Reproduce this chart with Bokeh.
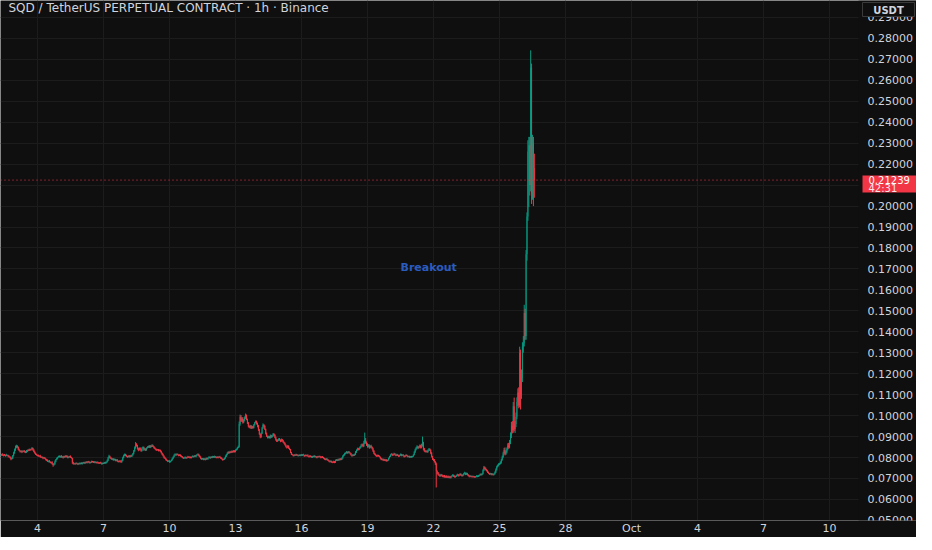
from bokeh.plotting import figure
from bokeh.models import ColumnDataSource, FixedTicker, Label, Range1d, Grid
from bokeh.core.properties import value
from bokeh.embed import file_html
from bokeh.resources import INLINE

# SQD/USDT perp, 1h candles, Sep 2 08:00 -> Sep 26 14:00
days = list(range(2, 27))

# closing prices per hour, one row per day (first row starts at 08:00)
close_rows = [
    [0.0812, 0.0815, 0.0810, 0.0813, 0.0811, 0.0808, 0.0812, 0.0810, 0.0806, 0.0803, 0.0800, 0.0793, 0.0795, 0.0808, 0.0822, 0.0835],
    [0.0848, 0.0855, 0.0850, 0.0838, 0.0832, 0.0828, 0.0831, 0.0826, 0.0829, 0.0832, 0.0827, 0.0824, 0.0830, 0.0835, 0.0833, 0.0838, 0.0836, 0.0840, 0.0845, 0.0837, 0.0828, 0.0822, 0.0815, 0.0811],
    [0.0810, 0.0806, 0.0808, 0.0803, 0.0800, 0.0802, 0.0797, 0.0799, 0.0795, 0.0790, 0.0786, 0.0781, 0.0784, 0.0779, 0.0775, 0.0778, 0.0770, 0.0764, 0.0768, 0.0780, 0.0790, 0.0796, 0.0802, 0.0806],
    [0.0803, 0.0807, 0.0801, 0.0804, 0.0800, 0.0806, 0.0802, 0.0808, 0.0804, 0.0799, 0.0803, 0.0806, 0.0801, 0.0797, 0.0776, 0.0770, 0.0772, 0.0769, 0.0773, 0.0771, 0.0768, 0.0772, 0.0770, 0.0774],
    [0.0771, 0.0775, 0.0773, 0.0777, 0.0774, 0.0779, 0.0776, 0.0781, 0.0777, 0.0774, 0.0778, 0.0782, 0.0779, 0.0776, 0.0780, 0.0777, 0.0774, 0.0778, 0.0775, 0.0772, 0.0776, 0.0773, 0.0770, 0.0774],
    [0.0772, 0.0776, 0.0774, 0.0778, 0.0785, 0.0797, 0.0806, 0.0800, 0.0795, 0.0791, 0.0794, 0.0788, 0.0791, 0.0786, 0.0789, 0.0783, 0.0779, 0.0784, 0.0781, 0.0778, 0.0786, 0.0798, 0.0809, 0.0815],
    [0.0810, 0.0806, 0.0802, 0.0807, 0.0803, 0.0809, 0.0805, 0.0811, 0.0818, 0.0830, 0.0845, 0.0862, 0.0857, 0.0842, 0.0836, 0.0845, 0.0838, 0.0832, 0.0844, 0.0849, 0.0837, 0.0842, 0.0835, 0.0846],
    [0.0850, 0.0854, 0.0848, 0.0856, 0.0852, 0.0858, 0.0853, 0.0847, 0.0842, 0.0838, 0.0835, 0.0838, 0.0833, 0.0836, 0.0830, 0.0822, 0.0815, 0.0808, 0.0800, 0.0796, 0.0790, 0.0786, 0.0782, 0.0784],
    [0.0779, 0.0783, 0.0788, 0.0795, 0.0803, 0.0811, 0.0815, 0.0812, 0.0816, 0.0813, 0.0809, 0.0812, 0.0808, 0.0804, 0.0800, 0.0796, 0.0799, 0.0802, 0.0797, 0.0800, 0.0804, 0.0800, 0.0803, 0.0799],
    [0.0802, 0.0806, 0.0804, 0.0808, 0.0805, 0.0810, 0.0813, 0.0815, 0.0809, 0.0803, 0.0796, 0.0792, 0.0795, 0.0791, 0.0794, 0.0790, 0.0796, 0.0793, 0.0799, 0.0802, 0.0798, 0.0803, 0.0800, 0.0804],
    [0.0801, 0.0805, 0.0802, 0.0799, 0.0803, 0.0800, 0.0804, 0.0801, 0.0797, 0.0793, 0.0789, 0.0792, 0.0796, 0.0805, 0.0813, 0.0820, 0.0826, 0.0822, 0.0828, 0.0824, 0.0830, 0.0826, 0.0832, 0.0828],
    [0.0835, 0.0840, 0.0846, 0.0852, 0.0960, 0.0995, 0.0975, 0.0985, 0.0968, 0.0978, 0.0990, 0.1000, 0.0982, 0.0965, 0.0950, 0.0944, 0.0952, 0.0940, 0.0948, 0.0942, 0.0955, 0.0966, 0.0972, 0.0962],
    [0.0950, 0.0932, 0.0912, 0.0898, 0.0915, 0.0940, 0.0955, 0.0950, 0.0935, 0.0915, 0.0902, 0.0896, 0.0900, 0.0894, 0.0905, 0.0898, 0.0903, 0.0912, 0.0908, 0.0896, 0.0885, 0.0878, 0.0883, 0.0889],
    [0.0884, 0.0878, 0.0886, 0.0880, 0.0873, 0.0868, 0.0860, 0.0852, 0.0848, 0.0855, 0.0845, 0.0838, 0.0825, 0.0815, 0.0812, 0.0808, 0.0813, 0.0810, 0.0815, 0.0811, 0.0808, 0.0812, 0.0809, 0.0813],
    [0.0810, 0.0814, 0.0811, 0.0807, 0.0812, 0.0808, 0.0811, 0.0806, 0.0803, 0.0808, 0.0805, 0.0801, 0.0806, 0.0803, 0.0807, 0.0804, 0.0800, 0.0805, 0.0802, 0.0806, 0.0803, 0.0799, 0.0804, 0.0800],
    [0.0797, 0.0793, 0.0790, 0.0794, 0.0789, 0.0786, 0.0782, 0.0779, 0.0783, 0.0778, 0.0776, 0.0781, 0.0777, 0.0785, 0.0789, 0.0786, 0.0791, 0.0788, 0.0794, 0.0790, 0.0797, 0.0806, 0.0812, 0.0818],
    [0.0821, 0.0826, 0.0822, 0.0827, 0.0823, 0.0819, 0.0812, 0.0808, 0.0813, 0.0810, 0.0815, 0.0826, 0.0835, 0.0842, 0.0838, 0.0845, 0.0850, 0.0858, 0.0862, 0.0855, 0.0868, 0.0885, 0.0872, 0.0860],
    [0.0852, 0.0858, 0.0848, 0.0855, 0.0850, 0.0843, 0.0832, 0.0820, 0.0814, 0.0810, 0.0806, 0.0811, 0.0807, 0.0803, 0.0796, 0.0790, 0.0793, 0.0787, 0.0791, 0.0785, 0.0789, 0.0784, 0.0788, 0.0797],
    [0.0805, 0.0812, 0.0816, 0.0811, 0.0814, 0.0818, 0.0813, 0.0809, 0.0814, 0.0810, 0.0806, 0.0811, 0.0815, 0.0810, 0.0813, 0.0808, 0.0804, 0.0809, 0.0812, 0.0807, 0.0803, 0.0806, 0.0801, 0.0805],
    [0.0802, 0.0806, 0.0812, 0.0825, 0.0838, 0.0846, 0.0852, 0.0845, 0.0850, 0.0856, 0.0848, 0.0858, 0.0870, 0.0842, 0.0832, 0.0828, 0.0831, 0.0826, 0.0835, 0.0840, 0.0836, 0.0822, 0.0805, 0.0792],
    [0.0788, 0.0780, 0.0770, 0.0735, 0.0728, 0.0720, 0.0716, 0.0712, 0.0718, 0.0714, 0.0709, 0.0713, 0.0707, 0.0711, 0.0706, 0.0710, 0.0705, 0.0709, 0.0704, 0.0708, 0.0712, 0.0716, 0.0711, 0.0707],
    [0.0710, 0.0714, 0.0718, 0.0713, 0.0717, 0.0721, 0.0716, 0.0712, 0.0717, 0.0722, 0.0726, 0.0720, 0.0724, 0.0718, 0.0713, 0.0709, 0.0712, 0.0708, 0.0711, 0.0707, 0.0710, 0.0706, 0.0709, 0.0712],
    [0.0709, 0.0713, 0.0716, 0.0720, 0.0718, 0.0722, 0.0738, 0.0752, 0.0748, 0.0742, 0.0736, 0.0730, 0.0725, 0.0721, 0.0724, 0.0719, 0.0722, 0.0718, 0.0721, 0.0729, 0.0742, 0.0755, 0.0762, 0.0768],
    [0.0770, 0.0776, 0.0789, 0.0803, 0.0820, 0.0836, 0.0818, 0.0825, 0.0840, 0.0858, 0.0850, 0.0874, 0.0905, 0.0952, 0.0930, 0.1045, 0.0935, 0.0960, 0.0995, 0.1065, 0.1110, 0.1050, 0.1300, 0.1100],
    [0.1180, 0.1330, 0.1345, 0.1490, 0.1380, 0.1770, 0.1950, 0.2260, 0.2290, 0.2100, 0.2660, 0.2060, 0.2300, 0.2180, 0.21239],
]

# wick lengths above / below the body, in units of 0.0001 USDT
up_wick_rows = [
    [4, 3, 5, 2, 4, 3, 6, 2, 3, 4, 2, 5, 3, 4, 6, 8],
    [9, 6, 4, 3, 5, 2, 4, 3, 5, 2, 3, 4, 6, 3, 4, 5, 3, 4, 5, 2, 3, 4, 2, 3],
    [3, 4, 2, 5, 3, 4, 2, 3, 4, 2, 3, 5, 2, 4, 3, 2, 4, 3, 5, 6, 3, 4, 2, 3],
    [4, 2, 5, 3, 4, 2, 3, 4, 2, 5, 3, 2, 4, 3, 2, 4, 3, 2, 4, 3, 2, 3, 4, 2],
    [3, 2, 4, 3, 2, 4, 3, 2, 3, 4, 2, 3, 2, 4, 3, 2, 3, 4, 2, 3, 2, 4, 3, 2],
    [2, 3, 4, 3, 5, 6, 7, 3, 2, 4, 3, 2, 4, 3, 2, 4, 3, 2, 4, 5, 4, 6, 5, 4],
    [3, 4, 2, 3, 5, 2, 4, 3, 4, 6, 8, 12, 6, 4, 5, 3, 4, 3, 5, 4, 3, 4, 2, 3],
    [4, 3, 5, 4, 3, 6, 3, 2, 3, 2, 4, 3, 2, 3, 2, 3, 2, 3, 2, 3, 2, 3, 2, 3],
    [3, 2, 3, 4, 3, 4, 5, 3, 4, 3, 2, 4, 3, 2, 3, 2, 4, 3, 2, 3, 4, 2, 3, 2],
    [3, 4, 2, 3, 4, 3, 4, 5, 3, 2, 3, 2, 3, 2, 3, 2, 4, 3, 2, 4, 3, 2, 3, 4],
    [3, 4, 2, 3, 4, 2, 3, 4, 2, 3, 2, 3, 4, 5, 4, 5, 4, 3, 4, 3, 4, 3, 4, 3],
    [4, 3, 4, 5, 12, 10, 8, 6, 8, 5, 6, 10, 5, 4, 5, 3, 4, 3, 4, 3, 5, 4, 5, 4],
    [5, 6, 4, 3, 5, 6, 8, 5, 4, 3, 4, 3, 4, 3, 5, 3, 4, 5, 4, 3, 4, 3, 4, 3],
    [4, 3, 5, 3, 4, 3, 4, 3, 2, 5, 3, 2, 3, 2, 3, 2, 3, 2, 3, 2, 3, 2, 3, 2],
    [3, 2, 4, 2, 3, 2, 3, 4, 2, 3, 2, 3, 2, 3, 4, 2, 3, 2, 3, 2, 3, 4, 2, 3],
    [3, 2, 3, 4, 2, 3, 2, 3, 4, 2, 3, 4, 2, 5, 4, 3, 4, 3, 4, 3, 4, 5, 4, 5],
    [4, 5, 3, 4, 3, 2, 3, 2, 3, 2, 4, 5, 4, 5, 3, 4, 5, 6, 5, 4, 12, 34, 8, 5],
    [8, 6, 5, 4, 6, 3, 4, 3, 2, 3, 2, 3, 2, 3, 2, 3, 2, 3, 2, 3, 2, 3, 2, 3],
    [3, 4, 5, 3, 4, 5, 3, 2, 4, 3, 2, 3, 4, 3, 2, 3, 2, 3, 4, 2, 3, 2, 3, 2],
    [3, 2, 4, 5, 4, 5, 6, 4, 5, 6, 5, 8, 30, 5, 4, 3, 4, 3, 4, 5, 4, 3, 4, 3],
    [4, 5, 3, 6, 4, 3, 4, 3, 4, 3, 4, 3, 4, 3, 4, 3, 4, 3, 4, 3, 4, 5, 3, 4],
    [3, 4, 5, 3, 4, 5, 3, 2, 4, 5, 6, 3, 4, 3, 2, 3, 4, 2, 3, 2, 3, 2, 3, 4],
    [3, 4, 3, 4, 3, 4, 6, 8, 5, 4, 3, 4, 3, 2, 3, 2, 3, 2, 3, 5, 6, 6, 5, 5],
    [5, 6, 5, 6, 8, 10, 12, 6, 8, 10, 12, 10, 15, 18, 22, 20, 41, 15, 20, 22, 20, 25, 29, 15],
    [40, 20, 35, 39, 20, 20, 20, 54, 40, 40, 83, 20, 40, 30, 70],
]
down_wick_rows = [
    [3, 4, 2, 5, 3, 4, 2, 3, 5, 3, 4, 6, 3, 2, 3, 4],
    [3, 4, 5, 3, 2, 4, 3, 5, 2, 3, 4, 3, 2, 4, 3, 2, 4, 3, 2, 5, 3, 4, 3, 2],
    [4, 2, 3, 4, 2, 3, 5, 2, 3, 4, 3, 2, 4, 3, 2, 5, 4, 8, 3, 2, 3, 2, 4, 3],
    [3, 4, 2, 3, 5, 2, 3, 2, 4, 3, 2, 4, 3, 2, 6, 4, 3, 4, 2, 3, 4, 2, 3, 3],
    [3, 4, 2, 3, 4, 2, 3, 4, 2, 3, 2, 4, 3, 2, 3, 4, 2, 3, 4, 2, 3, 2, 4, 3],
    [3, 2, 4, 3, 2, 3, 2, 4, 3, 2, 4, 3, 2, 4, 3, 4, 2, 3, 2, 3, 2, 3, 2, 3],
    [4, 3, 4, 2, 3, 4, 2, 3, 2, 3, 2, 3, 5, 4, 6, 3, 4, 5, 3, 2, 5, 3, 4, 2],
    [3, 4, 2, 3, 4, 2, 3, 4, 3, 4, 3, 2, 4, 3, 4, 3, 4, 3, 4, 3, 4, 3, 4, 3],
    [4, 3, 2, 3, 2, 3, 2, 4, 3, 2, 3, 2, 4, 3, 2, 3, 2, 4, 3, 2, 3, 2, 4, 3],
    [3, 2, 4, 3, 2, 4, 3, 2, 4, 3, 4, 3, 2, 4, 3, 4, 2, 3, 4, 2, 3, 4, 2, 3],
    [2, 3, 4, 3, 2, 4, 3, 2, 4, 3, 4, 2, 3, 2, 3, 2, 3, 4, 2, 3, 2, 3, 2, 4],
    [3, 2, 3, 2, 4, 8, 6, 5, 6, 4, 5, 6, 4, 5, 6, 4, 5, 4, 3, 4, 3, 2, 3, 5],
    [6, 5, 4, 6, 4, 3, 4, 5, 4, 5, 4, 5, 4, 3, 4, 5, 3, 4, 5, 4, 5, 4, 3, 4],
    [4, 5, 3, 4, 3, 4, 3, 4, 5, 3, 4, 3, 4, 3, 2, 3, 2, 3, 2, 3, 2, 3, 2, 3],
    [2, 3, 2, 4, 2, 3, 2, 3, 3, 2, 4, 2, 3, 2, 3, 2, 3, 4, 2, 3, 2, 3, 2, 3],
    [3, 4, 3, 2, 4, 3, 4, 3, 2, 4, 3, 2, 4, 3, 2, 3, 2, 3, 2, 3, 2, 3, 2, 3],
    [3, 2, 4, 3, 2, 4, 3, 4, 2, 3, 2, 3, 4, 3, 4, 3, 4, 3, 4, 6, 5, 4, 6, 5],
    [5, 4, 6, 4, 5, 4, 5, 4, 3, 4, 3, 2, 3, 2, 4, 3, 2, 4, 3, 2, 3, 4, 2, 3],
    [2, 3, 2, 4, 3, 2, 4, 3, 2, 3, 4, 2, 3, 4, 2, 3, 4, 2, 3, 2, 3, 2, 3, 2],
    [3, 2, 3, 2, 3, 4, 3, 5, 3, 4, 5, 4, 6, 8, 5, 4, 3, 4, 3, 4, 5, 6, 5, 4],
    [5, 4, 6, 78, 8, 5, 4, 5, 3, 4, 3, 4, 3, 4, 3, 4, 3, 4, 3, 4, 3, 2, 4, 3],
    [3, 2, 3, 4, 3, 2, 4, 3, 2, 3, 2, 4, 3, 4, 3, 4, 2, 3, 2, 3, 2, 3, 2, 3],
    [3, 2, 3, 2, 4, 3, 2, 3, 5, 4, 3, 4, 3, 4, 3, 4, 3, 4, 3, 2, 3, 4, 3, 4],
    [4, 3, 5, 4, 5, 6, 8, 6, 5, 6, 8, 6, 10, 12, 15, 12, 10, 18, 15, 12, 20, 15, 10, 71],
    [20, 20, 30, 15, 18, 18, 30, 20, 265, 50, 30, 50, 30, 180, 84],
]
first_open = 0.0810
last_price = 0.21239
countdown = "42:31"

# x axis: hours since Sep 1 00:00
date_ticks = [72, 144, 216, 288, 360, 432, 504, 576, 648, 720, 792, 864, 936]
date_labels = ["4", "7", "10", "13", "16", "19", "22", "25", "28", "Oct", "4", "7", "10"]
price_ticks = [0.05, 0.06, 0.07, 0.08, 0.09, 0.10, 0.11, 0.12, 0.13, 0.14, 0.15, 0.16, 0.17,
               0.18, 0.19, 0.20, 0.21, 0.22, 0.23, 0.24, 0.25, 0.26, 0.27, 0.28, 0.29]

UP = "#089981"
DOWN = "#f23645"
BG = "#0f0f0f"
GRID = "#1c1c1c"
TXT = "#d1d4dc"
FONT = "DejaVu Sans"

# build the candles
up = dict(x=[], top=[], bottom=[], high=[], low=[])
dn = dict(x=[], top=[], bottom=[], high=[], low=[])
prev = first_open
for i, (d, row, ups, downs) in enumerate(zip(days, close_rows, up_wick_rows, down_wick_rows)):
    start = 24 - len(row) if i == 0 else 0
    for h, (c, u, w) in enumerate(zip(row, ups, downs)):
        o = prev
        tgt = up if c >= o else dn
        tgt["x"].append((d - 1) * 24 + start + h)
        tgt["top"].append(max(o, c))
        tgt["bottom"].append(min(o, c))
        tgt["high"].append(max(o, c) + u * 0.0001)
        tgt["low"].append(min(o, c) - w * 0.0001)
        prev = c

# frame covers chart pane + price scale (858 px of candles, 58 px of scale)
p = figure(frame_width=916, frame_height=520, x_range=(31.64, 1030.91),
           y_range=(0.04995, 0.2981), y_axis_location=None,
           toolbar_location=None, tools="", output_backend="svg",
           min_border_left=0, min_border_top=0, min_border_right=0, min_border_bottom=14)
p.background_fill_color = BG
p.border_fill_color = BG
p.outline_line_color = None
# pixel ranges for the price-scale decorations
p.extra_x_ranges = {"px": Range1d(0, 916)}
p.extra_y_ranges = {"py": Range1d(520, 0)}

p.add_layout(Grid(dimension=1, ticker=FixedTicker(ticks=price_ticks), grid_line_color=GRID))
p.xgrid.grid_line_color = GRID

for src, col in ((up, UP), (dn, DOWN)):
    s = ColumnDataSource(src)
    p.segment(x0="x", y0="high", x1="x", y1="low", source=s, line_color=col, line_width=1)
    p.vbar(x="x", top="top", bottom="bottom", width=1.0, source=s,
           fill_color=col, line_color=None)

p.xaxis.ticker = FixedTicker(ticks=date_ticks)
p.xaxis.major_label_overrides = {t: l for t, l in zip(date_ticks, date_labels)}
p.xaxis.axis_line_color = None
p.xaxis.major_tick_line_color = None
p.xaxis.minor_tick_line_color = None
p.xaxis.major_tick_out = 0
p.xaxis.major_label_standoff = 1
p.xaxis.major_label_text_color = TXT
p.xaxis.major_label_text_font = FONT
p.xaxis.major_label_text_font_size = "11px"

# last price dotted line across the chart pane
p.segment(x0=[0], x1=[858], y0=[last_price], y1=[last_price], x_range_name="px",
          line_color=DOWN, line_dash="1 3", line_width=1)

# price scale: blank background, then labels on the price scale
p.quad(left=[858], right=[916], top=[0], bottom=[520], x_range_name="px", y_range_name="py",
       fill_color=BG, line_color=None)
shown = [t for t in price_ticks if abs(t - 0.21) > 1e-9]
p.text(x=[867] * len(shown), y=shown, text=["%.5f" % t for t in shown], x_range_name="px",
       text_font=value(FONT), text_font_size="11px", text_color=TXT,
       text_baseline="middle", text_align="left")

# last price tag
p.quad(left=[862], right=[927], top=[175], bottom=[192], x_range_name="px", y_range_name="py",
       fill_color=DOWN, line_color=None)
p.text(x=[868, 868], y=[179.5, 188], text=["%.5f" % last_price, countdown],
       x_range_name="px", y_range_name="py", text_font=value(FONT), text_font_size="10px",
       text_color=["#ffffff", "#fde2e5"], text_baseline="middle", text_align="left")

# currency box in the price scale corner
p.quad(left=[862], right=[914], top=[2], bottom=[16], x_range_name="px", y_range_name="py",
       fill_color=BG, line_color="#3a3a3a", line_width=1)
p.text(x=[888], y=[9.5], text=["USDT"], x_range_name="px", y_range_name="py",
       text_font=value(FONT), text_font_size="10px", text_font_style="bold",
       text_color=TXT, text_baseline="middle", text_align="center")

p.add_layout(Label(x=8, y=7.5, x_units="screen", y_range_name="py",
                   text="SQD / TetherUS PERPETUAL CONTRACT \u00b7 1h \u00b7 Binance",
                   text_font=FONT, text_font_size="12px", text_color=TXT,
                   text_baseline="middle"))

p.add_layout(Label(x=468, y=0.1705, text="Breakout", text_font=FONT,
                   text_font_size="11px", text_font_style="bold", text_color="#2a5cc0",
                   text_baseline="middle"))

open("out.html", "w").write(file_html(p, INLINE))
